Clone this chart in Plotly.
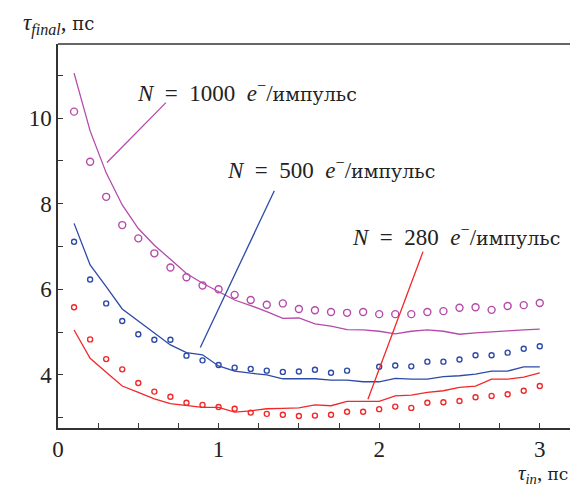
import plotly.graph_objects as go

# ---- data ----
tau_in = [round(0.1 * i, 1) for i in range(1, 31)]

sim_1000 = [11.05, 9.70, 8.72, 7.97, 7.42, 7.03, 6.70, 6.37, 6.14, 5.94,
            5.75, 5.62, 5.48, 5.32, 5.33, 5.19, 5.14, 5.06, 5.05, 5.02,
            4.96, 5.02, 5.05, 5.02, 4.95, 4.98, 5.01, 5.03, 5.05, 5.07]
exp_1000 = [10.15, 8.98, 8.16, 7.50, 7.19, 6.84, 6.51, 6.28, 6.09, 6.00,
            5.87, 5.75, 5.64, 5.67, 5.54, 5.51, 5.47, 5.45, 5.47, 5.42,
            5.42, 5.42, 5.47, 5.49, 5.57, 5.58, 5.52, 5.61, 5.63, 5.68]

sim_500 = [7.54, 6.57, 6.06, 5.54, 5.26, 4.99, 4.70, 4.52, 4.47, 4.21,
           4.09, 4.04, 4.00, 3.91, 3.91, 3.91, 3.88, 3.88, 3.84, 3.84,
           3.92, 3.90, 3.90, 3.96, 3.98, 4.02, 4.09, 4.09, 4.19, 4.19]
exp_500 = [7.11, 6.23, 5.67, 5.26, 4.95, 4.82, 4.82, 4.45, 4.34, 4.23,
           4.17, 4.14, 4.10, 4.07, 4.08, 4.12, 4.05, 4.10, None, 4.19,
           4.22, 4.20, 4.31, 4.31, 4.36, 4.46, 4.46, 4.52, 4.61, 4.67]

sim_280 = [5.05, 4.39, 4.06, 3.74, 3.59, 3.44, 3.33, 3.28, 3.24, 3.24,
           3.13, 3.16, 3.21, 3.22, 3.23, 3.30, 3.28, 3.38, 3.38, 3.38,
           3.51, 3.53, 3.59, 3.63, 3.71, 3.74, 3.90, 3.90, 3.95, 4.05]
exp_280 = [5.58, 4.83, 4.37, 4.13, 3.81, 3.61, 3.49, 3.35, 3.30, 3.25,
           3.21, 3.12, 3.09, 3.07, 3.04, 3.05, 3.07, 3.14, 3.14, 3.20,
           3.26, 3.23, 3.35, 3.36, 3.39, 3.48, 3.51, 3.55, 3.63, 3.74]

N_values = ["1000", "500", "280"]
unit_word = "импульс"
label_pos = [(0.48, 10.61), (1.04, 8.82), (1.82, 7.25)]
leaders = [((0.305, 8.96), (0.672, 10.36)),
           ((0.886, 4.64), (1.347, 8.30)),
           ((1.930, 3.43), (2.273, 6.88))]

x_ticks = [0.25 * i for i in range(0, 13)]
x_ticktext = [str(int(v)) if v == int(v) else "" for v in x_ticks]
y_ticks = [3, 4, 5, 6, 7, 8, 9, 10, 11]
y_ticktext = [str(v) if v % 2 == 0 else "" for v in y_ticks]

colors = ["#b54aab", "#2d4aa6", "#f0282a"]
FONT = "Liberation Serif"
CYR = "DejaVu Serif"

fig = go.Figure()
series = [(sim_1000, exp_1000, 7), (sim_500, exp_500, 5), (sim_280, exp_280, 5)]
for (sim, exp, msize), c in zip(series, colors):
    fig.add_trace(go.Scatter(x=tau_in, y=sim, mode="lines",
                             line=dict(color=c, width=1.3), showlegend=False))
    fig.add_trace(go.Scatter(x=tau_in, y=exp, mode="markers",
                             marker=dict(symbol="circle-open", size=msize, color=c,
                                         line=dict(width=1.4, color=c)),
                             showlegend=False))

for (p0, p1), c in zip(leaders, colors):
    fig.add_shape(type="line", xref="x", yref="y", x0=p0[0], y0=p0[1],
                  x1=p1[0], y1=p1[1], line=dict(color=c, width=1.3))

for nv, (lx, ly) in zip(N_values, label_pos):
    txt = (f"<i>N</i>\u2002=\u2002{nv}\u2002<i>e</i><sup>−</sup>/"
           f"<span style='font-family:{CYR};font-size:19px'>{unit_word}</span>")
    fig.add_annotation(x=lx, y=ly, xref="x", yref="y", text=txt, showarrow=False,
                       xanchor="left", yanchor="middle",
                       font=dict(family=FONT, size=23, color="#222"))

# top frame line
fig.add_shape(type="line", xref="paper", yref="paper", x0=0, x1=1, y0=1, y1=1,
              line=dict(color="#333", width=1.5))

fig.add_annotation(xref="paper", yref="paper", x=-0.072, y=1.05,
                   text=f"<i>τ</i><sub><i>final</i></sub>, <span style='font-family:{CYR};font-size:18px'>пс</span>",
                   showarrow=False, xanchor="left", yanchor="middle",
                   font=dict(family=FONT, size=23, color="#222"))
fig.add_annotation(xref="paper", yref="paper", x=0.985, y=-0.121,
                   text=f"<i>τ</i><sub><i>in</i></sub>, <span style='font-family:{CYR};font-size:17px'>пс</span>",
                   showarrow=False, xanchor="right", yanchor="middle",
                   font=dict(family=FONT, size=21, color="#222"))

# page body has an 8px margin: figure placed at (8, 8)
fig.update_layout(
    width=570, height=478,
    margin=dict(l=50, r=0, t=36, b=58),
    paper_bgcolor="white", plot_bgcolor="white",
    font=dict(family=FONT, size=23, color="#222"),
    xaxis=dict(range=[0, 3.238], tickmode="array", tickvals=x_ticks, ticktext=x_ticktext,
               ticks="inside", ticklen=5, tickwidth=1.3, tickcolor="#333",
               showline=True, linecolor="#333", linewidth=1.5, showgrid=False,
               zeroline=False, tickfont=dict(family=FONT, size=23, color="#222")),
    yaxis=dict(range=[2.76, 11.73], tickmode="array", tickvals=y_ticks, ticktext=y_ticktext,
               ticks="inside", ticklen=5, tickwidth=1.3, tickcolor="#333",
               showline=True, linecolor="#333", linewidth=1.5, showgrid=False,
               zeroline=False, tickfont=dict(family=FONT, size=23, color="#222")),
)

fig.write_html("out.html")
